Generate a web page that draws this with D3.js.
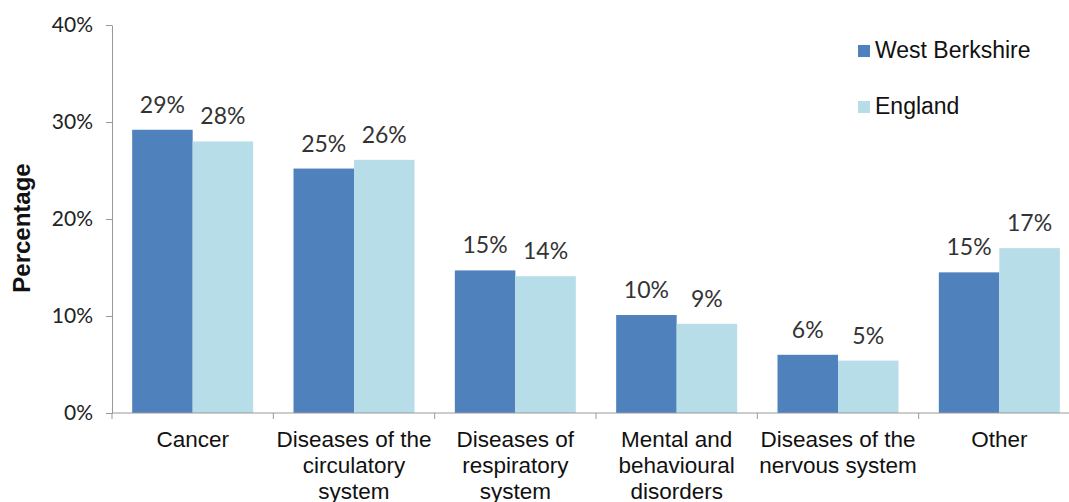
<!DOCTYPE html>
<html><head><meta charset="utf-8">
<script src="https://cdn.jsdelivr.net/npm/d3@7"></script>
<style>body{margin:0;background:#fff;} svg{display:block;}</style>
</head><body>
<svg id="chart" width="1069" height="502"></svg>
<script>
const categories = ["Cancer","Diseases of the circulatory system","Diseases of respiratory system","Mental and behavioural disorders","Diseases of the nervous system","Other"];
const categoryLines = [["Cancer"],["Diseases of the","circulatory","system"],["Diseases of","respiratory","system"],["Mental and","behavioural","disorders"],["Diseases of the","nervous system"],["Other"]];
const series = ["West Berkshire","England"];
const westBerkshire = [29.2, 25.2, 14.7, 10.1, 6.0, 14.5];
const england = [28.0, 26.1, 14.1, 9.2, 5.4, 17.0];
const westBerkshireLabels = ["29%","25%","15%","10%","6%","15%"];
const englandLabels = ["28%","26%","14%","9%","5%","17%"];
const yTicks = [0,10,20,30,40];
const colors = ["#4F81BD","#B7DEE8"];

const svg = d3.select("#chart");
const x0 = d3.scaleBand().domain(categories).range([112,1080]).padding(0);
const bw = x0.bandwidth();
const x1 = d3.scaleBand().domain(series).range([bw*0.125, bw*0.875]).padding(0);
const y = d3.scaleLinear().domain([0,40]).range([413,25]);

const values = [westBerkshire, england];
const labels = [westBerkshireLabels, englandLabels];

// bars
series.forEach((s,si)=>{
  svg.append("g").selectAll("rect").data(categories).join("rect")
    .attr("x",(c)=>x0(c)+x1(s))
    .attr("y",(c,i)=>y(values[si][i]))
    .attr("width",x1.bandwidth())
    .attr("height",(c,i)=>y(0)-y(values[si][i]))
    .attr("fill",colors[si]);
  svg.append("g").selectAll("text").data(categories).join("text")
    .attr("x",(c)=>x0(c)+x1(s)+x1.bandwidth()/2)
    .attr("y",(c,i)=>y(values[si][i])-17)
    .attr("text-anchor","middle")
    .attr("font-family","Lato, 'Open Sans', sans-serif")
    .attr("font-size","23px")
    .attr("fill","#333")
    .text((c,i)=>labels[si][i]);
});

// y axis
const yAxis = svg.append("g").attr("transform","translate(112,0)")
  .call(d3.axisLeft(y).tickValues(yTicks).tickFormat(d=>d+"%").tickSize(6).tickSizeOuter(0).tickPadding(13));
yAxis.select(".domain").attr("stroke","#999");
yAxis.selectAll(".tick line").attr("stroke","#999");
yAxis.selectAll(".tick text").attr("font-family","Lato, 'Open Sans', sans-serif").attr("font-size","21px").attr("fill","#222");

// x axis
const xAxis = svg.append("g").attr("transform","translate(0,413)");
xAxis.append("line").attr("x1",112).attr("x2",1080).attr("y1",0).attr("y2",0).attr("stroke","#999");
xAxis.selectAll("line.tk").data(categories.concat(["_end"])).join("line").attr("class","tk")
  .attr("x1",(c,i)=>x0.range()[0]+i*bw).attr("x2",(c,i)=>x0.range()[0]+i*bw)
  .attr("y1",0).attr("y2",6).attr("stroke","#999");
categories.forEach((c,i)=>{
  const t = xAxis.append("text")
    .attr("x",x0(c)+bw/2).attr("y",34)
    .attr("text-anchor","middle")
    .attr("font-family","'Liberation Sans', Arial, sans-serif")
    .attr("font-size","22.5px").attr("fill","#111");
  categoryLines[i].forEach((l,li)=>{
    t.append("tspan").attr("x",x0(c)+bw/2).attr("dy",li===0?0:26).text(l);
  });
});

// y title
svg.append("text").attr("transform","translate(30,228) rotate(-90)")
  .attr("text-anchor","middle")
  .attr("font-family","'Liberation Sans', Arial, sans-serif")
  .attr("font-weight","bold").attr("font-size","24px").attr("fill","#111")
  .text("Percentage");

// legend
const lg = svg.append("g");
series.forEach((s,i)=>{
  const yy = 45 + i*56;
  lg.append("rect").attr("x",858).attr("y",yy).attr("width",12).attr("height",12).attr("fill",colors[i]);
  lg.append("text").attr("x",875).attr("y",yy+13)
    .attr("font-family","'Liberation Sans', Arial, sans-serif")
    .attr("font-size","23px").attr("fill","#111").text(s);
});
</script>
</body></html>
